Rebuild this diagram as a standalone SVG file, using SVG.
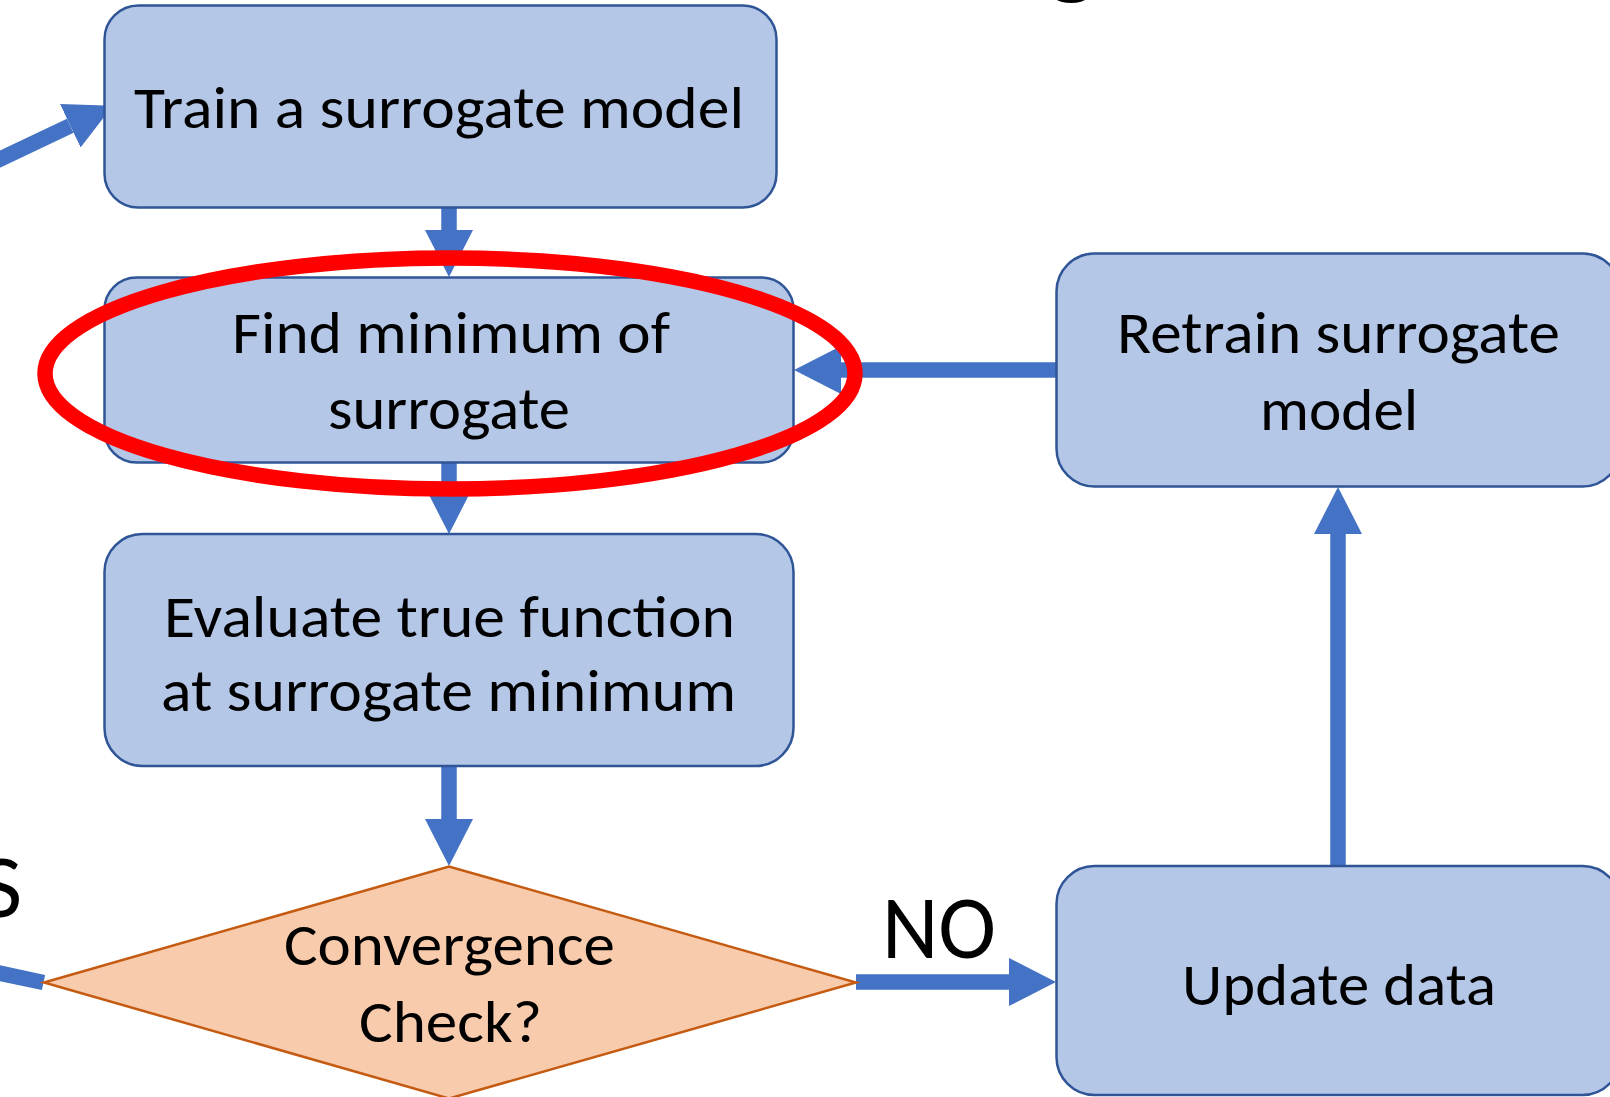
<svg xmlns="http://www.w3.org/2000/svg" width="1610" height="1097" viewBox="0 0 1610 1097">
<style>
.box{fill:#B4C7E7;stroke:#2F5597;stroke-width:2.5}
.dia{fill:#F8CBAD;stroke:#C55A11;stroke-width:2.5}
.lbl{font-family:Carlito,Lato,"Liberation Sans",sans-serif;font-size:59px;fill:#000}
.big{font-family:Carlito,Lato,"Liberation Sans",sans-serif;font-size:90px;fill:#000}
.con{stroke:#4472C4;stroke-width:15.5;fill:none;stroke-linecap:butt}
.arr{marker-end:url(#head)}
</style>
<defs>
<marker id="head" viewBox="0 0 47 48" refX="0" refY="24" markerWidth="47" markerHeight="48" markerUnits="userSpaceOnUse" orient="auto">
<path d="M0,0 L47,24 L0,48 Z" fill="#4472C4"/>
</marker>
</defs>
<rect width="1610" height="1097" fill="#FFFFFF"/>
<text x="1048" y="-14" font-family="Lato,'Liberation Sans',sans-serif" font-weight="bold" font-size="92">g</text>
<g id="connectors">
<line class="con arr" x1="-20" y1="168.6" x2="70.3" y2="125.8"/>
<line class="con arr" x1="449" y1="207" x2="449" y2="230"/>
<line class="con arr" x1="449" y1="462" x2="449" y2="487"/>
<line class="con arr" x1="449" y1="766" x2="449" y2="819"/>
<line class="con arr" x1="856" y1="982" x2="1009" y2="982"/>
<line class="con arr" x1="1338" y1="866" x2="1338" y2="534"/>
<line class="con arr" x1="1056" y1="370" x2="841" y2="370"/>
<line class="con" x1="43.5" y1="982.5" x2="-20" y2="969"/>
</g>
<g id="train">
<rect class="box" x="104.5" y="5.5" width="672" height="202" rx="34"/>
<text class="lbl" x="134" y="128" textLength="610" lengthAdjust="spacingAndGlyphs">Train a surrogate model</text>
</g>
<g id="find">
<rect class="box" x="104.5" y="277.5" width="689" height="185" rx="32"/>
<text class="lbl" x="232" y="352.5" textLength="438" lengthAdjust="spacingAndGlyphs">Find minimum of</text>
<text class="lbl" x="328" y="429" textLength="242" lengthAdjust="spacingAndGlyphs">surrogate</text>
</g>
<g id="evaluate">
<rect class="box" x="104.5" y="534" width="689" height="232" rx="38"/>
<text class="lbl" x="164" y="636.5" textLength="571" lengthAdjust="spacingAndGlyphs">Evaluate true function</text>
<text class="lbl" x="161" y="710.5" textLength="575" lengthAdjust="spacingAndGlyphs">at surrogate minimum</text>
</g>
<g id="convergence">
<polygon class="dia" points="44,982.5 449,866.5 856,982.5 449,1098.5"/>
<text class="lbl" x="284" y="965" textLength="331" lengthAdjust="spacingAndGlyphs">Convergence</text>
<text class="lbl" x="359" y="1041.5" textLength="183" lengthAdjust="spacingAndGlyphs">Check?</text>
</g>
<g id="retrain">
<rect class="box" x="1056.5" y="253.5" width="564" height="233" rx="38"/>
<text class="lbl" x="1117" y="353" textLength="443" lengthAdjust="spacingAndGlyphs">Retrain surrogate</text>
<text class="lbl" x="1260" y="430" textLength="158" lengthAdjust="spacingAndGlyphs">model</text>
</g>
<g id="update">
<rect class="box" x="1056.5" y="866" width="564" height="229" rx="38"/>
<text class="lbl" x="1182" y="1005" textLength="314" lengthAdjust="spacingAndGlyphs">Update data</text>
</g>
<g id="labels">
<text class="big" x="882" y="958" textLength="114" lengthAdjust="spacingAndGlyphs">NO</text>
<text class="big" x="22" y="917" text-anchor="end">YES</text>
</g>
<g id="highlight">
<ellipse cx="450" cy="373.5" rx="405" ry="115.5" fill="none" stroke="#FF0000" stroke-width="15.5"/>
</g>
</svg>
